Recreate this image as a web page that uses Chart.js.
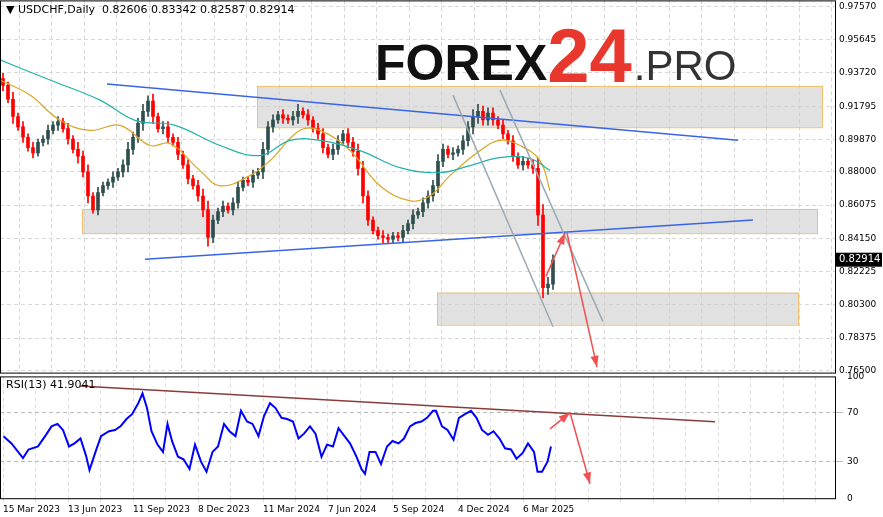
<!DOCTYPE html>
<html><head><meta charset="utf-8">
<script src="https://cdn.jsdelivr.net/npm/chart.js@4/dist/chart.umd.min.js"></script>
<style>
body{margin:0;background:#fff;width:883px;height:517px;overflow:hidden;font-family:"DejaVu Sans",sans-serif}
#w1{position:absolute;left:0;top:-9px;width:883px;height:391px}
#w2{position:absolute;left:0;top:367px;width:883px;height:150px}
</style></head><body>
<div id="w1"><canvas id="price"></canvas></div>
<div id="w2"><canvas id="rsi"></canvas></div>
<script>
// weekly closes, one every ~5 trading days
const closes = [.930,.922,.912,.906,.900,.894,.891,.897,.899,.904,.907,.909,.905,.899,.893,.889,.880,.866,.858,.868,
  .872,.874,.877,.880,.884,.893,.900,.908,.915,.921,.912,.905,.906,.900,.897,.890,.884,.876,.872,.866,
  .858,.842,.852,.857,.860,.858,.862,.871,.875,.874,.878,.880,.893,.906,.910,.913,.911,.910,.912,.915,
  .913,.910,.905,.902,.894,.890,.893,.898,.902,.897,.892,.882,.866,.852,.846,.843,.842,.841,.843,.842,
  .846,.850,.855,.857,.862,.866,.872,.886,.893,.890,.891,.893,.898,.906,.912,.915,.910,.914,.910,.907,
  .902,.898,.889,.884,.886,.884,.882,.855,.813,.815,.829]
const firstOpen = 0.934
const wickSize = [3,2,4,2,3,2,3,2,2,3,2,3,2,3,2,4,3,4,2,3,2,2,3,2,3,4,3,3,4,3,4,2,3,3,2,3,2,3,2,3,4,5,3,2,3,2,3,3,2,2,3,2,4,3,3,2,3,2,3,4,
  2,3,2,3,3,2,3,3,2,3,3,4,4,3,2,2,3,2,2,2,3,2,3,2,3,3,3,4,3,2,3,2,3,3,4,4,3,3,3,2,3,2,3,2,3,2,3,6,6,4,3]
const tealX = [-0.6,9.4,19.4,26.4,34.4,43.4,51.4,57.4,63.4,71.4,79.4,87.4,93.4,99.4,105.4,109.4]
const tealY = [.9448,.9331,.9215,.9098,.9069,.8952,.8894,.8982,.8982,.8923,.8824,.8795,.8836,.8882,.8877,.8807]
const orangeX = [-0.6,5.4,11.4,17.4,23.4,29.4,33.4,39.4,43.4,49.4,53.4,59.4,63.4,69.4,75.4,81.4,85.4,89.4,95.4,99.4,103.4,107.4,109.4]
const orangeY = [.9331,.9244,.9098,.9040,.9069,.8952,.8964,.8807,.8719,.8778,.8865,.9040,.9040,.8923,.8719,.8632,.8661,.8778,.8923,.8982,.8952,.8865,.8690]
const priceTicks = [0.76500,0.78375,0.80300,0.82225,0.84150,0.86075,0.88000,0.89870,0.91795,0.93720,0.95645,0.97570]
const dateLabels = ['15 Mar 2023','13 Jun 2023','11 Sep 2023','8 Dec 2023','11 Mar 2024','7 Jun 2024','5 Sep 2024','4 Dec 2024','6 Mar 2025']
const rsiDays = [0.1,1.7,4,5.1,7,8.6,9.7,10.9,12,13.2,14.3,15.5,16.6,17.3,18.5,19.6,21.2,22.4,23.5,24.7,25.8,27,27.9,28.8,29.7,30.9,32,32.9,33.8,35,
  36.1,37.3,38.4,39.6,40.7,41.9,43,44.2,45.3,46.5,47.6,48.8,49.9,51.1,52.2,53.4,54.5,55.7,56.8,58,59.1,60.2,61.4,62.5,63.7,64.8,66,67.1,68.3,69.4,
  70.6,71.7,72.4,73.3,74.5,75.6,76.8,77.9,79.1,80.2,81.4,82.5,83.7,84.8,86,86.6,87.8,88.9,90.1,91.2,92.4,93.6,94.7,95.8,97,98.1,99.3,100.4,101.6,102.7,
  103.9,105,106.2,106.9,107.8,108.9,109.6]
const rsiValues = [50.8,45,33,40,42.5,52,59,61,56,42.5,45,49,35,23,38,51,55,56,59,65,69,77.5,86,74,55,44,38,61,47,34,
  32,24,44,30,21.7,38,42.5,61,55,51,71.7,63,61,51,67.5,78,74,66,65,63,49,53,59,53,34,44,42.5,57.5,51,45,
  35,24,20,38,38,28,42.5,47,45,49,59,61.7,63,66,71.7,71.7,59,56,48,66,69,71.7,66,56,52,55,49,41,40,32.5,
  37,45,38,21.7,21.7,30,42.5]

const X_MIN = -0.6, X_MAX = 166.4
const gridTicks = []
for (let i = 0; i <= 25; i++) gridTicks.push({value: i * 6.5})

const candles = closes.map((c, i) => {
  const o = i === 0 ? firstOpen : closes[i - 1]
  const w = wickSize[i] / 1000
  return {x: i, o: o, c: c, h: Math.max(o, c) + w, l: Math.min(o, c) - w}
})
const upCol = '#2f4f4f', dnCol = '#ff0000'
const colOf = ctx => { const k = candles[ctx.dataIndex]; return k && k.c >= k.o ? upCol : dnCol }

const overlays = {
  id: 'overlays',
  beforeDatasetsDraw(chart) {
    const {ctx, scales: {x, y}} = chart
    const box = (x1, x2, y1, y2) => {
      ctx.fillStyle = 'rgba(205,205,205,0.6)'
      ctx.strokeStyle = '#f0c070'
      ctx.lineWidth = 1
      const px = x.getPixelForValue(x1), py = y.getPixelForValue(y1)
      const w = x.getPixelForValue(x2) - px, h = y.getPixelForValue(y2) - py
      ctx.fillRect(px, py, w, h); ctx.strokeRect(px + .5, py + .5, w, h)
    }
    ctx.save()
    box(50.8, 163.8, .9297, .9058)
    box(15.8, 162.8, .8585, .8445)
    box(86.8, 159, .8101, .7915)
    // logo
    ctx.textBaseline = 'alphabetic'
    const base = chart.chartArea.top + 80
    ctx.font = 'bold 50px "Liberation Sans"'
    ctx.fillStyle = '#111'
    ctx.fillText('FOREX', 375, base)
    let wx = 375 + ctx.measureText('FOREX').width
    ctx.font = 'bold 76px "Liberation Sans"'
    ctx.fillStyle = '#e8372c'
    ctx.fillText('24', wx, base + 2)
    wx += ctx.measureText('24').width
    ctx.font = '42px "Liberation Sans"'
    ctx.fillStyle = '#333'
    ctx.fillText('.PRO', wx + 2, base)
    ctx.restore()
  },
  afterDatasetsDraw(chart) {
    const {ctx, scales: {x, y}} = chart
    ctx.save()
    const seg = (a, b, c, d, col, lw) => {
      ctx.strokeStyle = col; ctx.lineWidth = lw
      ctx.beginPath(); ctx.moveTo(x.getPixelForValue(a), y.getPixelForValue(b))
      ctx.lineTo(x.getPixelForValue(c), y.getPixelForValue(d)); ctx.stroke()
    }
    seg(20.8, .9308, 147, .8982, '#3a64e8', 1.5)
    seg(28.4, .8294, 150, .8521, '#3a64e8', 1.5)
    seg(90, .9244, 110, .7903, '#9aaab5', 1.5)
    seg(99.4, .9273, 120, .7933, '#9aaab5', 1.5)
    arrow(ctx, x, y, 108.6, .8195, 112.4, .8446)
    arrow(ctx, x, y, 112.8, .8446, 118.8, .7670)
    // last price label
    const py = y.getPixelForValue(0.82914)
    ctx.fillStyle = '#000'
    ctx.fillRect(x.right + 1, py - 7, 46, 14)
    ctx.fillStyle = '#fff'; ctx.font = '10px "DejaVu Sans"'; ctx.textBaseline = 'middle'
    ctx.fillText('0.82914', x.right + 4, py)
    // title
    ctx.fillStyle = '#000'; ctx.font = '11px "DejaVu Sans"'; ctx.textBaseline = 'middle'
    ctx.fillText('\u25BC USDCHF,Daily  0.82606 0.83342 0.82587 0.82914', 6, chart.chartArea.top + 10)
    ctx.restore()
  }
}

function arrow(ctx, x, y, a, b, c, d) {
  const x1 = x.getPixelForValue(a), y1 = y.getPixelForValue(b)
  const x2 = x.getPixelForValue(c), y2 = y.getPixelForValue(d)
  const ang = Math.atan2(y2 - y1, x2 - x1)
  ctx.strokeStyle = '#f05050'; ctx.fillStyle = '#f05050'; ctx.lineWidth = 1.5
  ctx.beginPath(); ctx.moveTo(x1, y1); ctx.lineTo(x2, y2); ctx.stroke()
  ctx.beginPath(); ctx.moveTo(x2, y2)
  ctx.lineTo(x2 - 12 * Math.cos(ang - 0.35), y2 - 12 * Math.sin(ang - 0.35))
  ctx.lineTo(x2 - 12 * Math.cos(ang + 0.35), y2 - 12 * Math.sin(ang + 0.35))
  ctx.closePath(); ctx.fill()
}

const frame = {
  id: 'frame',
  afterDraw(chart) {
    const {ctx, chartArea: a} = chart
    ctx.save(); ctx.strokeStyle = '#000'; ctx.lineWidth = 1
    ctx.strokeRect(a.left + .5, a.top + .5, a.right - a.left, a.bottom - a.top)
    ctx.restore()
  }
}

const gridOpts = {color: '#d8d8d8', drawTicks: false}
const borderOpts = {dash: [4, 3], display: false}

new Chart(document.getElementById('price'), {
  type: 'bar',
  data: {datasets: [
    {data: candles.map(k => ({x: k.x, y: [k.l, k.h]})), backgroundColor: colOf, barThickness: 1, grouped: false, order: 3},
    {data: candles.map(k => ({x: k.x, y: [k.o, k.c]})), backgroundColor: colOf, barThickness: 3, grouped: false, order: 2},
    {type: 'line', data: tealX.map((v, i) => ({x: v, y: tealY[i]})), borderColor: '#20b2aa', borderWidth: 1.2, pointRadius: 0, tension: 0.4, order: 1},
    {type: 'line', data: orangeX.map((v, i) => ({x: v, y: orangeY[i]})), borderColor: '#daa520', borderWidth: 1.2, pointRadius: 0, tension: 0.4, order: 1}
  ]},
  options: {
    animation: false, responsive: true, maintainAspectRatio: false,
    layout: {padding: {top: 0, left: 0, right: 0, bottom: 0}},
    plugins: {legend: {display: false}, tooltip: {enabled: false}},
    scales: {
      x: {type: 'linear', min: X_MIN, max: X_MAX, offset: false,
        afterBuildTicks: s => { s.ticks = gridTicks.slice() },
        ticks: {display: false}, grid: gridOpts, border: borderOpts},
      y: {position: 'right', min: 0.7638, max: 0.9792,
        afterBuildTicks: s => { s.ticks = priceTicks.map(v => ({value: v})) },
        afterFit: s => { s.width = 48 },
        ticks: {font: {size: 9, family: 'DejaVu Sans'}, color: '#000', padding: 4, callback: v => v.toFixed(5)},
        grid: gridOpts, border: borderOpts}
    }
  },
  plugins: [overlays, frame]
})

const rsiDraw = {
  id: 'rsiDraw',
  afterDatasetsDraw(chart) {
    const {ctx, scales: {x, y}} = chart
    ctx.save()
    ctx.strokeStyle = '#8b3a3a'; ctx.lineWidth = 1.5
    ctx.beginPath(); ctx.moveTo(x.getPixelForValue(15.4), y.getPixelForValue(92.2))
    ctx.lineTo(x.getPixelForValue(142.4), y.getPixelForValue(62.7)); ctx.stroke()
    arrow(ctx, x, y, 109.4, 56.9, 113.4, 70.3)
    arrow(ctx, x, y, 113.4, 70.3, 117.4, 11.9)
    ctx.fillStyle = '#000'; ctx.font = '11px "DejaVu Sans"'; ctx.textBaseline = 'middle'
    ctx.fillText('RSI(13) 41.9041', 6, chart.chartArea.top + 9)
    ctx.restore()
  }
}

new Chart(document.getElementById('rsi'), {
  type: 'line',
  data: {datasets: [
    {data: rsiDays.map((v, i) => ({x: v, y: rsiValues[i]})), borderColor: '#0000ff', borderWidth: 2, pointRadius: 0, tension: 0}
  ]},
  options: {
    animation: false, responsive: true, maintainAspectRatio: false,
    layout: {padding: {top: 2, left: 0, right: 0, bottom: 0}},
    plugins: {legend: {display: false}, tooltip: {enabled: false}},
    scales: {
      x: {type: 'linear', min: X_MIN, max: X_MAX,
        afterBuildTicks: s => { s.ticks = gridTicks.slice() },
        ticks: {font: {size: 9, family: 'DejaVu Sans'}, color: '#000', maxRotation: 0, autoSkip: false, align: 'start', padding: 2,
          callback: (v, i) => i % 2 === 0 && dateLabels[i / 2] ? dateLabels[i / 2] : ''},
        grid: {color: '#dddddd', tickLength: 4}, border: borderOpts},
      y: {position: 'right', min: 0, max: 100,
        afterBuildTicks: s => { s.ticks = [0, 30, 70, 100].map(v => ({value: v})) },
        afterFit: s => { s.width = 48 },
        ticks: {font: {size: 9, family: 'DejaVu Sans'}, color: '#000', padding: 4},
        grid: {color: ctx => ctx.tick && (ctx.tick.value === 30 || ctx.tick.value === 70) ? '#bbbbbb' : 'rgba(0,0,0,0)'}, border: borderOpts}
    }
  },
  plugins: [rsiDraw, frame]
})
</script>
</body></html>
